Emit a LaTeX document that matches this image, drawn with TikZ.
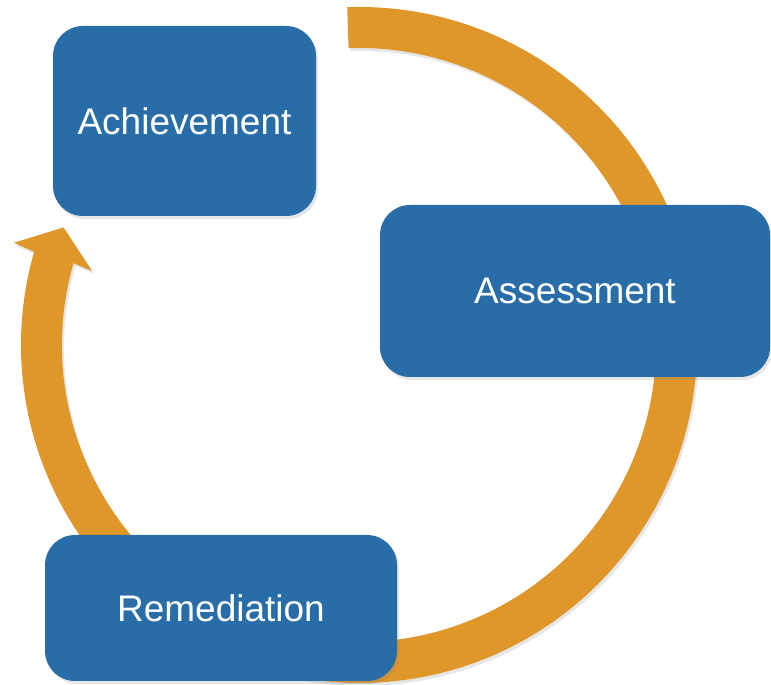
\documentclass[tikz,border=0pt]{standalone}
\usepackage{fontspec}
\setmainfont{Liberation Sans}
\usetikzlibrary{shadows}
\definecolor{boxblue}{RGB}{40,108,168}
\definecolor{arcorange}{RGB}{224,151,42}
\begin{document}
\begin{tikzpicture}[
  stage/.style={fill=boxblue,rounded corners=30pt,inner sep=0pt,text=white,
    font=\fontsize{37}{44}\selectfont,
    drop shadow={opacity=0.2,shadow xshift=2pt,shadow yshift=-3pt}},
  cyclearrow/.style={fill=arcorange,
    drop shadow={opacity=0.2,shadow xshift=2pt,shadow yshift=-3pt}}]
\useasboundingbox (0,0) rectangle (771pt,685pt);
\coordinate (c) at (359pt,340pt);
%
\path[cyclearrow] ([shift={(92:338pt)}]c) arc[start angle=92,end angle=-196,radius=338pt]
  -- ([shift={(163.5:360pt)}]c) -- ([shift={(158.3:318pt)}]c)
  -- ([shift={(164.5:277pt)}]c) -- ([shift={(164:297pt)}]c)
  arc[start angle=-196,end angle=92,radius=297pt] -- cycle;
%
\node[stage,minimum width=263pt,minimum height=190pt] (ach) at (184.5pt,564pt) {Achievement};
\node[stage,minimum width=390pt,minimum height=172pt] (ass) at (575pt,394pt) {Assessment};
\node[stage,minimum width=352pt,minimum height=146pt] (rem) at (221pt,77pt) {Remediation};
\end{tikzpicture}
\end{document}
